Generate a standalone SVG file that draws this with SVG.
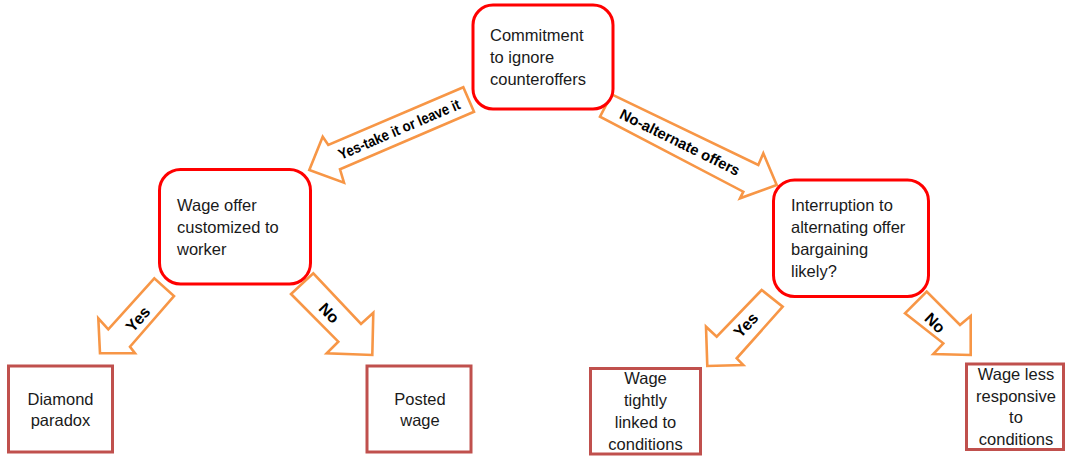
<svg xmlns="http://www.w3.org/2000/svg" width="1065" height="456" viewBox="0 0 1065 456">
<style>
  .node { fill: #ffffff; stroke: #ff0000; stroke-width: 3; }
  .leaf { fill: #ffffff; stroke: #c0504d; stroke-width: 3; }
  .arrow { fill: #ffffff; stroke: #f79646; stroke-width: 2.6; stroke-linejoin: miter; }
  .t { font-family: "Liberation Sans", Arial, sans-serif; font-size: 16.5px; fill: #1a1a1a; }
  .c { text-anchor: middle; }
  .lbl { font-family: "Liberation Sans", Arial, sans-serif; font-weight: bold; fill: #000000; text-anchor: middle; dominant-baseline: central; }
</style>
<rect width="1065" height="456" fill="#ffffff"/>

<g id="connectors">
  <g id="arrow-yes-take">
    <polygon class="arrow" points="463.3,87.3 328.3,145 322.7,136.7 309.3,170 344,182.7 340,169.3 474,111.7"/>
    <text class="lbl" font-size="15" x="0" y="0" textLength="131" lengthAdjust="spacingAndGlyphs" transform="translate(399,129) rotate(-23.2)">Yes-take it or leave it</text>
  </g>
  <g id="arrow-no-alternate">
    <polygon class="arrow" points="611.7,94.3 758.3,165 763.3,153.3 776.7,185 740,198.3 743.3,191.7 600,116.7"/>
    <text class="lbl" font-size="15" x="0" y="0" textLength="132" lengthAdjust="spacingAndGlyphs" transform="translate(680,142) rotate(26.3)">No-alternate offers</text>
  </g>
  <g id="arrow-left-yes">
    <polygon class="arrow" points="154.3,278.3 108.3,329.3 98.3,318.3 100,353.3 135,353.3 130,346.7 174,296"/>
    <text class="lbl" font-size="16" x="0" y="0" transform="translate(138,319) rotate(-48)">Yes</text>
  </g>
  <g id="arrow-left-no">
    <polygon class="arrow" points="291,294 338.3,341.7 326.7,353.3 372.3,355 373.3,312.7 361,324 313.3,273.3"/>
    <text class="lbl" font-size="16" x="0" y="0" transform="translate(329,313) rotate(46)">No</text>
  </g>
  <g id="arrow-right-yes">
    <polygon class="arrow" points="761.7,290 716.7,336.7 706,326.7 707.3,366 743.3,365 736.7,358.3 782.7,306.7"/>
    <text class="lbl" font-size="16" x="0" y="0" transform="translate(746,325) rotate(-47)">Yes</text>
  </g>
  <g id="arrow-right-no">
    <polygon class="arrow" points="905,313.3 943.3,343.3 933.3,354 970.7,355 970.7,316 960,325 926.7,291.7"/>
    <text class="lbl" font-size="16" x="0" y="0" transform="translate(935,323) rotate(44)">No</text>
  </g>
</g>

<g id="node-commitment">
  <rect class="node" x="473" y="5" width="140" height="104" rx="20" ry="20"/>
  <text class="t" x="490" y="41">Commitment</text>
  <text class="t" x="490" y="63">to ignore</text>
  <text class="t" x="490" y="85">counteroffers</text>
</g>

<g id="node-wage-offer">
  <rect class="node" x="159.5" y="169.5" width="151" height="114.5" rx="21" ry="21"/>
  <text class="t" x="177" y="211">Wage offer</text>
  <text class="t" x="177" y="233">customized to</text>
  <text class="t" x="177" y="255">worker</text>
</g>

<g id="node-interruption">
  <rect class="node" x="773.5" y="180" width="155" height="116.5" rx="21" ry="21"/>
  <text class="t" x="791" y="211">Interruption to</text>
  <text class="t" x="791" y="233">alternating offer</text>
  <text class="t" x="791" y="255">bargaining</text>
  <text class="t" x="791" y="277">likely?</text>
</g>

<g id="leaf-diamond">
  <rect class="leaf" x="8.5" y="366" width="104" height="86"/>
  <text class="t c" x="60.5" y="405">Diamond</text>
  <text class="t c" x="60.5" y="426">paradox</text>
</g>

<g id="leaf-posted">
  <rect class="leaf" x="367" y="366" width="104" height="86"/>
  <text class="t c" x="420" y="405">Posted</text>
  <text class="t c" x="420" y="426">wage</text>
</g>

<g id="leaf-tightly">
  <rect class="leaf" x="590.5" y="368.5" width="110" height="85.5"/>
  <text class="t c" x="645.5" y="384">Wage</text>
  <text class="t c" x="645.5" y="406">tightly</text>
  <text class="t c" x="645.5" y="428">linked to</text>
  <text class="t c" x="645.5" y="450">conditions</text>
</g>

<g id="leaf-less">
  <rect class="leaf" x="966.5" y="364" width="97" height="85.5"/>
  <text class="t c" x="1016" y="380">Wage less</text>
  <text class="t c" x="1016" y="402">responsive</text>
  <text class="t c" x="1016" y="423">to</text>
  <text class="t c" x="1016" y="445">conditions</text>
</g>
</svg>
